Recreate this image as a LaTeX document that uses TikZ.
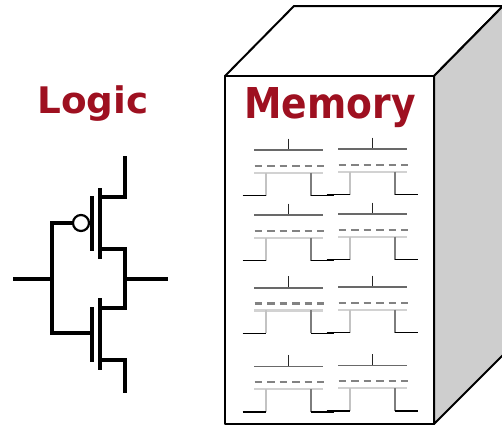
\documentclass[tikz,border=0pt]{standalone}
\usepackage{fontspec}
\newfontfamily\headfont{DejaVu Sans}
\definecolor{headred}{RGB}{158,16,32}
\definecolor{sidegray}{RGB}{206,206,206}
\definecolor{platecol}{RGB}{105,105,105}
\definecolor{floatcol}{RGB}{130,130,130}
\definecolor{chancol}{RGB}{210,210,210}
\definecolor{srccol}{RGB}{195,195,195}
\definecolor{drncol}{RGB}{125,125,125}
\begin{document}
\begin{tikzpicture}[x=1pt,y=-1pt,
  wire/.style={line width=3.2pt},
  boxedge/.style={line width=2pt, line join=round},
  heading/.style={text=headred, inner sep=0pt, anchor=base},
  gatelead/.style={line width=1.2pt, black!85},
  plate/.style={line width=1.6pt, platecol},
  floatgate/.style={line width=2.2pt, floatcol, dash pattern=on 7.5pt off 5pt},
  channel/.style={line width=2.2pt, chancol},
  srcleg/.style={line width=2.2pt, srccol},
  drnleg/.style={line width=2.2pt, drncol},
  bitline/.style={line width=1.4pt, black},
  pics/memcell/.style={code={
    \draw[gatelead] (0,-11.5) -- (0,0);
    \draw[plate] (-34.7,0) -- (34,0);
    \draw[floatgate] (-34.2,15.7) -- (35.3,15.7);
    \draw[channel] (-34.7,22.7) -- (34,22.7);
    \draw[srcleg] (-23,22.7) -- (-23,45.5);
    \draw[drnleg] (22.3,22.7) -- (22.3,45.5);
    \draw[bitline] (-46,45.5) -- (-23,45.5);
    \draw[bitline] (22.3,45.5) -- (45,45.5);
  }}]
\useasboundingbox (0,0) rectangle (502,426);

% memory block drawn as a box in perspective
\draw[boxedge, fill=white] (225,76) -- (294,6) -- (503,6) -- (434,76) -- cycle;
\draw[boxedge, fill=sidegray] (434,76) -- (503,6) -- (503,355) -- (434,424) -- cycle;
\draw[boxedge, fill=white] (225,76) rectangle (434,424);

% headings
\node[heading, font=\headfont\bfseries\fontsize{36.6}{40}\selectfont] (logic) at (92.8,113.3) {\scalebox{1.02}[1]{Logic}};
\node[heading, font=\headfont\bfseries\fontsize{42.5}{46}\selectfont] (memory) at (330,118.3) {\scalebox{0.886}[1]{Memory}};

% array of floating-gate cells
\pic (c11) at (288.7,150) {memcell};
\pic (c12) at (372.7,149) {memcell};
\pic (c21) at (288.7,215) {memcell};
\pic (c22) at (372.7,214) {memcell};
\pic (c31) at (288.7,287.7) {memcell};
\pic (c32) at (372.7,287) {memcell};
\pic (c41) at (288.7,366.3) {memcell};
\pic (c42) at (372.7,365.5) {memcell};

% CMOS inverter
\coordinate (vdd) at (125,156);
\coordinate (ps) at (125,197);
\coordinate (pd) at (125,249);
\coordinate (out) at (125,279);
\coordinate (nd) at (125,308);
\coordinate (ns) at (125,360);
\coordinate (gnd) at (125,393);
\coordinate (outend) at (168,279);
\coordinate (in) at (13,279);
\coordinate (inj) at (52,279);
\coordinate (ptap) at (52,223);
\coordinate (ntap) at (52,333);
\node[circle, draw, line width=2.2pt, minimum size=16pt, inner sep=0pt] (bubble) at (81,223) {};

% PMOS
\draw[wire] (vdd) -- (ps) -- (100,197);
\draw[wire] (100,188) -- (100,259);
\draw[wire] (92,196) -- (92,251);
\draw[wire] (100,249) -- (pd) -- (nd) -- (100,308);
% NMOS
\draw[wire] (100,298) -- (100,370);
\draw[wire] (92,307) -- (92,362);
\draw[wire] (100,360) -- (ns) -- (gnd);
% input and output
\draw[wire] (in) -- (inj);
\draw[wire] (bubble.west) -- (ptap) -- (ntap) -- (92,333);
\draw[wire] (out) -- (outend);
\end{tikzpicture}
\end{document}
